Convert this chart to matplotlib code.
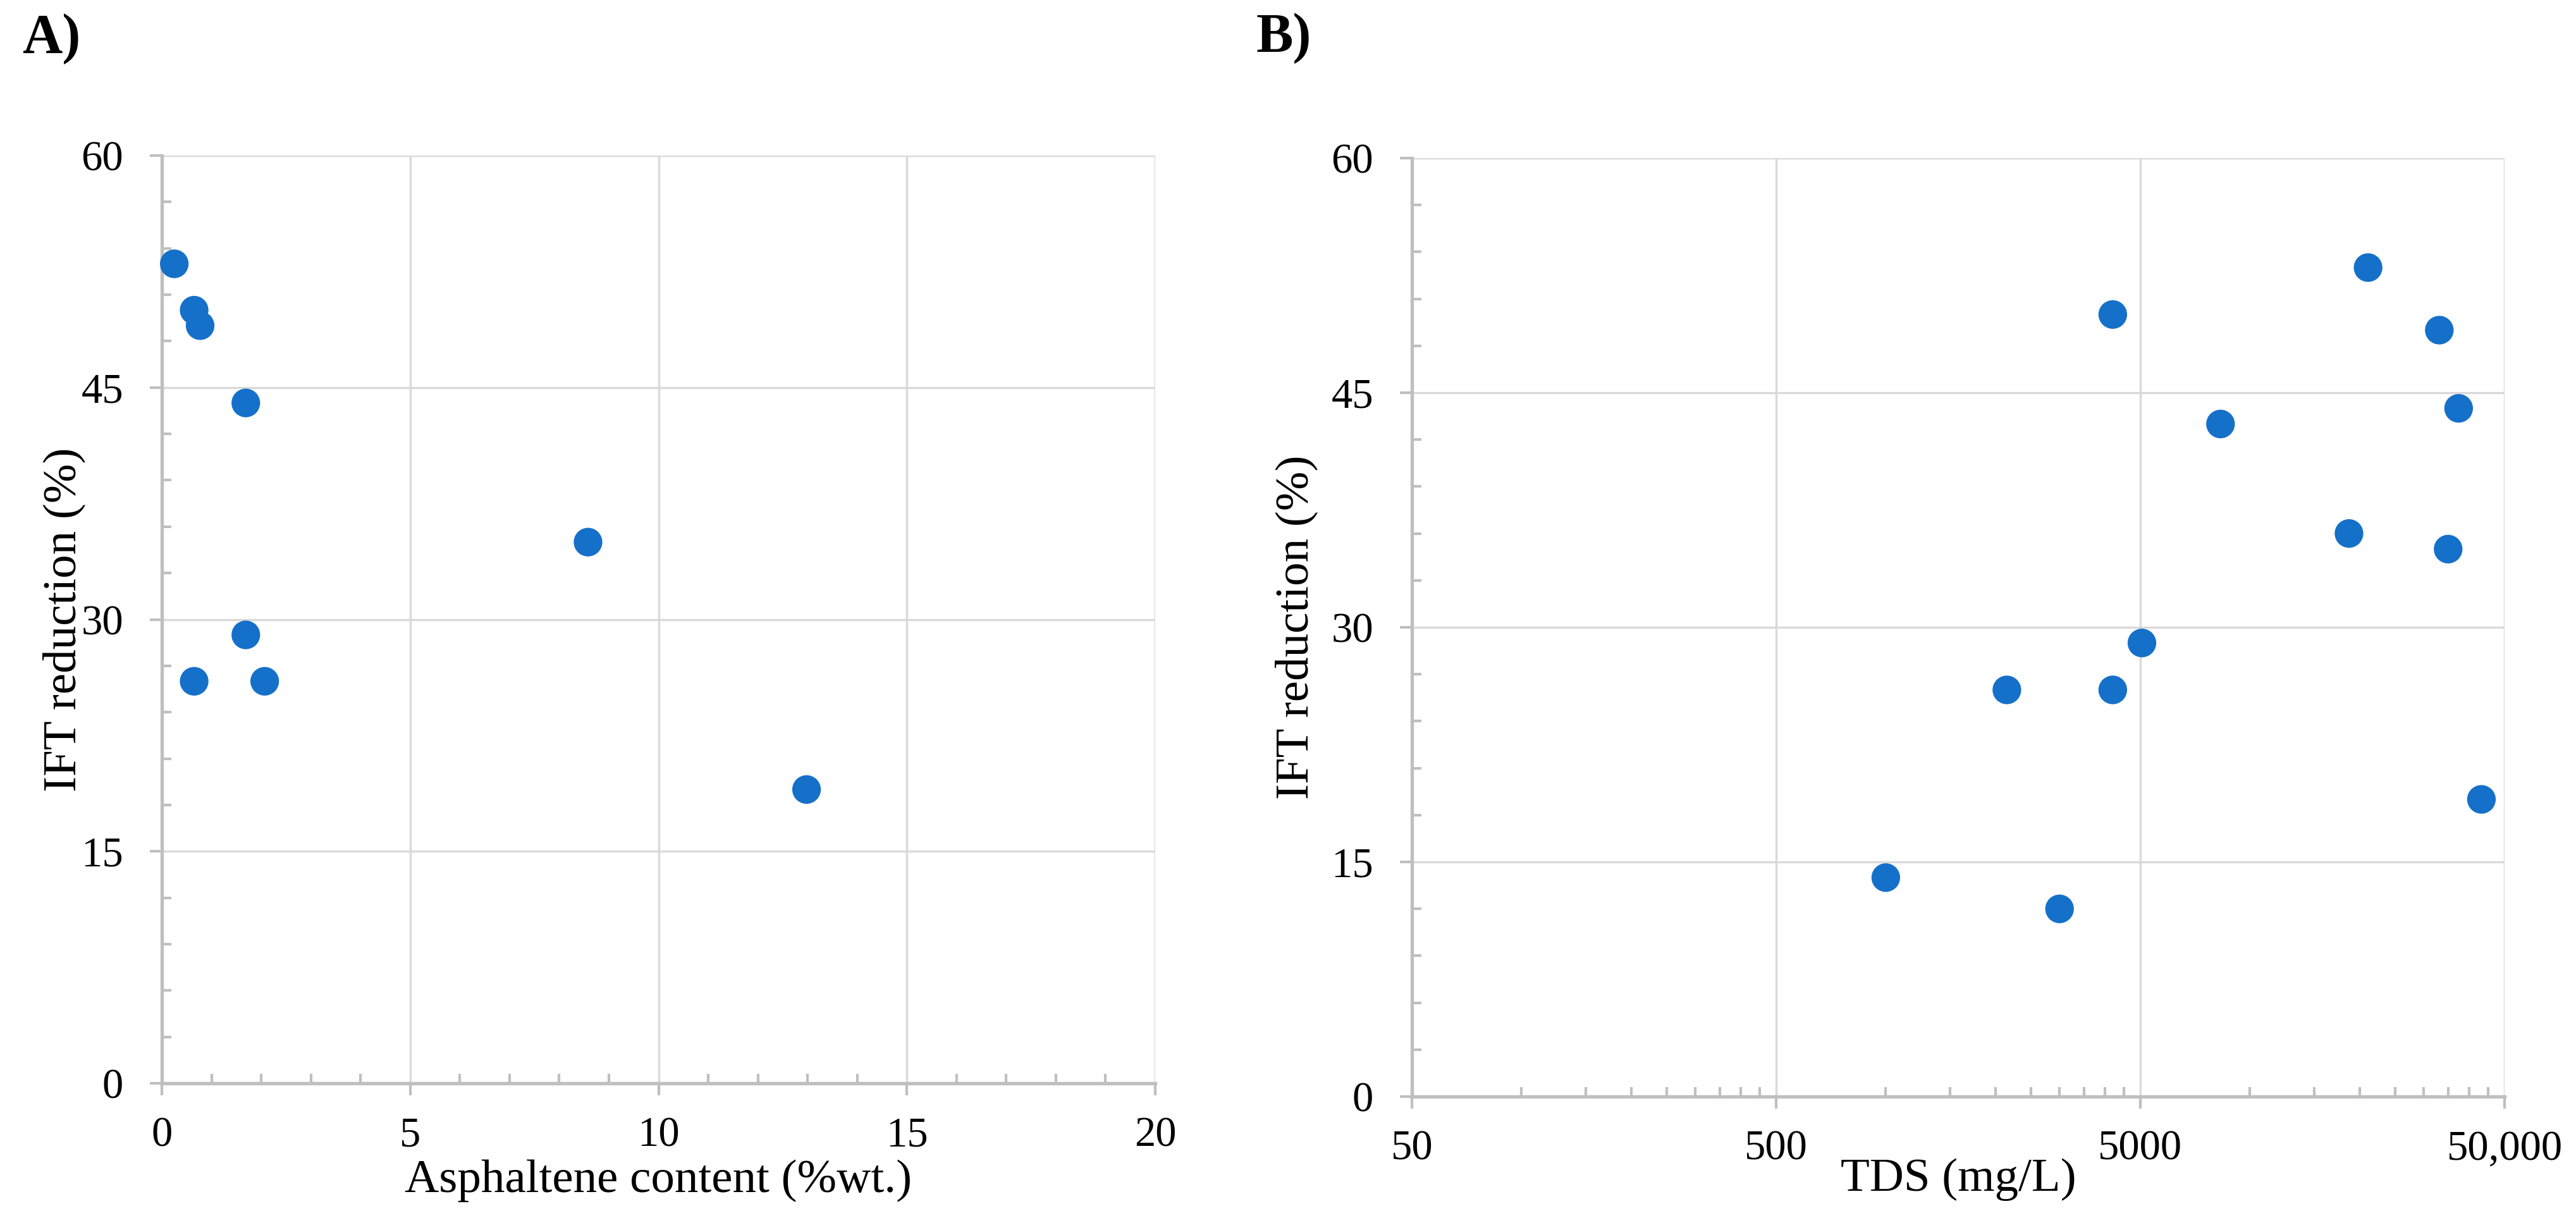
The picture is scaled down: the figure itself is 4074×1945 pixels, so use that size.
import matplotlib.pyplot as plt
from matplotlib.ticker import MultipleLocator, FixedLocator, FixedFormatter, NullFormatter

plt.rcParams['font.family'] = ['Liberation Serif', 'DejaVu Serif']

# panel A: asphaltene content vs IFT reduction
asph_content = [0.25, 0.65, 0.77, 1.69, 8.58, 1.69, 0.65, 2.07, 12.98]
asph_ift = [53, 50, 49, 44, 35, 29, 26, 26, 19]

# panel B: TDS vs IFT reduction
tds = [1000, 3000, 2150, 4200, 4200, 5050, 8300, 18700, 21100, 33100, 35000, 37400, 43200]
tds_ift = [14, 12, 26, 26, 50, 29, 43, 36, 53, 49, 35, 44, 19]
tds_ticks = [50, 500, 5000, 50000]
tds_labels = ['50', '500', '5000', '50,000']
ift_ticks = [0, 15, 30, 45, 60]

blue = '#1570c9'
axis_gray = '#bfbfbf'
grid_gray = '#d9d9d9'

W, H = 4074, 1945
fig = plt.figure(figsize=(W / 300, H / 300), dpi=300)


def style(ax):
    for s in ['top', 'right']:
        ax.spines[s].set_visible(False)
    for s in ['left', 'bottom']:
        ax.spines[s].set_color(axis_gray)
        ax.spines[s].set_linewidth(1.3)
        ax.spines[s].set_zorder(2)
    ax.grid(True, which='major', color=grid_gray, linewidth=0.8, zorder=0)
    ax.set_axisbelow(True)
    ax.tick_params(which='major', direction='out', length=4.6, width=1.0,
                   color=axis_gray, labelsize=16, pad=8)
    ax.tick_params(which='minor', direction='in', length=3.6, width=1.0,
                   color=axis_gray)
    ax.tick_params(axis='y', which='major', pad=10)
    ax.set_ylim(0, 60)
    ax.yaxis.set_major_locator(FixedLocator(ift_ticks))
    ax.yaxis.set_minor_locator(MultipleLocator(3))


# ---- A ----
ax1 = fig.add_axes([256 / W, 1 - 1713 / H, 1571 / W, 1467 / H])
style(ax1)
ax1.set_xlim(0, 20)
ax1.xaxis.set_major_locator(MultipleLocator(5))
ax1.xaxis.set_minor_locator(MultipleLocator(1))
ax1.scatter(asph_content, asph_ift, s=118, color=blue, edgecolors='none',
            zorder=3, clip_on=False)
ax1.set_xlabel('Asphaltene content (%wt.)', fontsize=18)
ax1.set_ylabel('IFT reduction (%)', fontsize=18)
ax1.xaxis.set_label_coords(0.5, -0.082)
ax1.yaxis.set_label_coords(-0.077, 0.5)

# ---- B ----
ax2 = fig.add_axes([2233 / W, 1 - 1734 / H, 1728 / W, 1484 / H])
style(ax2)
ax2.set_xscale('log')
ax2.set_xlim(50, 50000)
ax2.xaxis.set_major_locator(FixedLocator(tds_ticks))
ax2.xaxis.set_major_formatter(FixedFormatter(tds_labels))
minor = [k * t for t in tds_ticks[:-1] for k in range(2, 10)]
ax2.xaxis.set_minor_locator(FixedLocator(minor))
ax2.xaxis.set_minor_formatter(NullFormatter())
ax2.scatter(tds, tds_ift, s=118, color=blue, edgecolors='none',
            zorder=3, clip_on=False)
ax2.set_xlabel('TDS (mg/L)', fontsize=18)
ax2.set_ylabel('IFT reduction (%)', fontsize=18)
ax2.xaxis.set_label_coords(0.5, -0.066)
ax2.yaxis.set_label_coords(-0.086, 0.5)

fig.text(35 / W, 1 - 83 / H, 'A)', fontsize=21, fontweight='bold', va='baseline')
fig.text(1987 / W, 1 - 82 / H, 'B)', fontsize=21, fontweight='bold', va='baseline')

fig.savefig('out.png', dpi=300, facecolor='white')
